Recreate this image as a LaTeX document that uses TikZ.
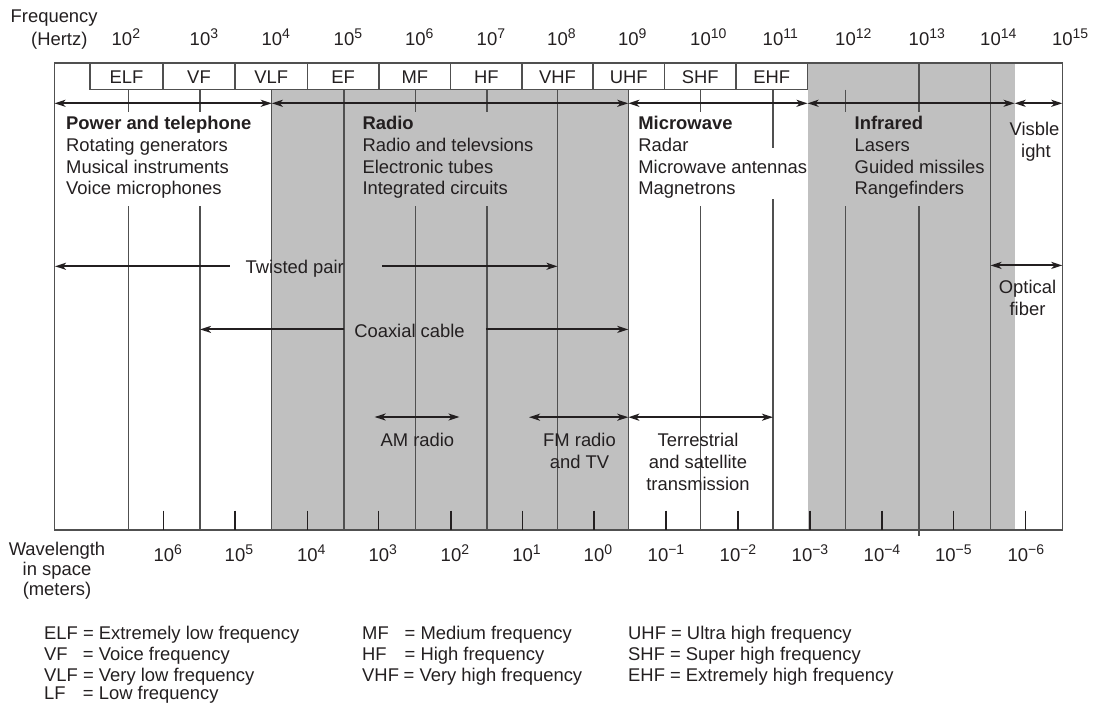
\documentclass[tikz,border=0pt]{standalone}
\usepackage{fontspec}
\setmainfont{Liberation Sans}
\usetikzlibrary{arrows.meta}
\definecolor{shadegray}{HTML}{C0C0C0}
\definecolor{linegray}{HTML}{505050}
\definecolor{ink}{HTML}{231F20}
\newcommand\tenup[1]{10\rlap{\raisebox{7pt}{\fontsize{14}{14}\selectfont #1}}}
\newcommand\tenfull[1]{10\raisebox{7pt}{\fontsize{14}{14}\selectfont #1}}
\begin{document}
\begin{tikzpicture}[x=1pt,y=-1pt,
  txt/.style={font=\fontsize{18.4}{21.7}\selectfont, inner sep=0pt, text=ink},
  num/.style={font=\fontsize{18.5}{20}\selectfont, inner sep=0pt, text=ink, anchor=base},
  lft/.style={txt, anchor=base west},
  ctr/.style={txt, anchor=base},
  bold/.style={lft, font=\fontsize{18.4}{21.7}\selectfont\bfseries},
  vline/.style={draw=linegray, line width=1.2pt},
  frameline/.style={draw=linegray, line width=1.4pt},
  tickline/.style={draw=ink, line width=1.1pt},
  both/.style={draw=ink, line width=1.9pt, {Stealth[length=11pt,width=7pt,inset=3pt]}-{Stealth[length=11pt,width=7pt,inset=3pt]}},
  tipend/.style={draw=ink, line width=1.9pt, -{Stealth[length=11pt,width=7pt,inset=3pt]}},
]
\useasboundingbox (0,0) rectangle (1094,704);

% shaded regions
\fill[shadegray] (271.8,89.5) rectangle (628.3,530);
\fill[shadegray] (807.5,63) rectangle (1014.6,530);

% outer frame
\draw[frameline] (54.5,63) rectangle (1062.3,530);

% band boxes
\draw[frameline] (90,63) -- (90,89.5) -- (807.5,89.5) -- (807.5,63);
\foreach \b in {163,235,307.4,379,450.7,522,593,664.4,736}
  \draw[frameline] (\b,63) -- (\b,89.5);
\foreach \c/\t [count=\i] in {126.5/ELF,199/VF,271.2/VLF,343.2/EF,414.9/MF,486.4/HF,557.5/VHF,628.7/UHF,700.2/SHF,771.8/EHF}
  \node[ctr] (band\i) at (\c,83) {\t};

% vertical decade lines
\foreach \x in {128.7,200.0,415.4,487.0,700.5,845.5}{
  \draw[vline] (\x,89.5) -- (\x,112);
  \draw[vline] (\x,206) -- (\x,530);
}
\foreach \x in {271.8,344.0,557.5,628.3}
  \draw[vline] (\x,89.5) -- (\x,530);
\draw[vline] (773.0,89.5) -- (773.0,148);
\draw[vline] (773.0,199) -- (773.0,530);
\draw[vline] (919.0,63) -- (919.0,112);
\draw[vline] (919.0,206) -- (919.0,536);
\draw[vline] (990.5,63) -- (990.5,530);

% wavelength ticks and labels
\foreach \x/\e [count=\i] in {163.8/6,235/5,307.3/4,378.8/3,451/2,522.6/1,594/0}{
  \draw[tickline] (\x,510.5) -- (\x,530);
  \node[num] (wl\i) at (\x,561) {\tenup{\e}};
}
\foreach \x/\e [count=\i] in {666/−1,738/−2,810/−3,882/−4,953.4/−5,1025.9/−6}{
  \draw[tickline] (\x,510.5) -- (\x,530);
  \node[num] (wn\i) at (\x,561) {\tenfull{\e}};
}

% frequency labels
\node[lft] (freq) at (10.5,22) {Frequency};
\node[lft] (hertz) at (31,45) {(Hertz)};
\node[num] (f2) at (122,45) {\tenup{2}};
\foreach \x/\e in {200.0/3,271.8/4,344.0/5,415.4/6,487.0/7,557.5/8,628.3/9,700.5/10,773.0/11,845.5/12,919.0/13,990.5/14,1062.3/15}
  \node[num] (f\e) at (\x,45) {\tenup{\e}};

% wavelength caption
\node[ctr] (wlen1) at (57,555.4) {Wavelength};
\node[ctr] (wlen2) at (57,575.4) {in space};
\node[ctr] (wlen3) at (57,595.4) {(meters)};

% top row of arrows
\coordinate (r0) at (54.5,103.3);
\coordinate (r1) at (271.8,103.3);
\coordinate (r2) at (628.3,103.3);
\coordinate (r3) at (807.5,103.3);
\coordinate (r4) at (1014.6,103.3);
\coordinate (r5) at (1062.3,103.3);
\draw[both] (r0) -- (r1);
\draw[both] (r1) -- (r2);
\draw[both] (r2) -- (r3);
\draw[both] (r3) -- (r4);
\draw[both] (r4) -- (r5);

% category texts
\node[bold] (pw0) at (66,129.6) {Power and telephone};
\node[lft] (pw1) at (66,151.3) {Rotating generators};
\node[lft] (pw2) at (66,173) {Musical instruments};
\node[lft] (pw3) at (66,194.5) {Voice microphones};

\node[bold] (ra0) at (362.3,129.6) {Radio};
\node[lft] (ra1) at (362.3,151.3) {Radio and televsions};
\node[lft] (ra2) at (362.3,173) {Electronic tubes};
\node[lft] (ra3) at (362.3,194.5) {Integrated circuits};

\node[bold] (mw0) at (638.2,129.6) {Microwave};
\node[lft] (mw1) at (638.2,151.3) {Radar};
\node[lft] (mw2) at (638.2,173) {Microwave antennas};
\node[lft] (mw3) at (638.2,194.5) {Magnetrons};

\node[bold] (ir0) at (854.5,129.6) {Infrared};
\node[lft] (ir1) at (854.5,151.3) {Lasers};
\node[lft] (ir2) at (854.5,173) {Guided missiles};
\node[lft] (ir3) at (854.5,194.5) {Rangefinders};

\node[ctr] (vis1) at (1034.5,135.5) {Visble};
\node[ctr] (vis2) at (1036,157) {ight};

% twisted pair
\node[ctr] (tp) at (294.8,273.3) {Twisted pair};
\coordinate (tpl) at (55,266.3);
\coordinate (tpr) at (557.5,266.3);
\draw[tipend] (tp.west |- tpl) ++(-16,0) -- (tpl);
\draw[tipend] (tp.east |- tpr) ++(38,0) -- (tpr);

% coaxial
\node[ctr] (cx) at (409.5,337.5) {Coaxial cable};
\coordinate (cxl) at (200.0,329.4);
\coordinate (cxr) at (628.3,329.4);
\draw[tipend] (cx.west |- cxl) ++(-10,0) -- (cxl);
\draw[tipend] (cx.east |- cxr) ++(21,0) -- (cxr);

% optical fiber
\coordinate (ofl) at (990.5,265.4);
\coordinate (ofr) at (1062.3,265.4);
\draw[both] (ofl) -- (ofr);
\node[ctr] (of1) at (1027.5,293) {Optical};
\node[ctr] (of2) at (1027.5,315) {fiber};

% AM / FM / terrestrial
\coordinate (aml) at (374.6,417);
\coordinate (amr) at (459.5,417);
\draw[both] (aml) -- (amr);
\node[ctr] (am) at (417.4,446.8) {AM radio};

\coordinate (fml) at (529,417.2);
\coordinate (fmr) at (628.3,417.2);
\draw[both] (fml) -- (fmr);
\node[ctr] (fm1) at (579.5,446.5) {FM radio};
\node[ctr] (fm2) at (579.5,468.4) {and TV};

\coordinate (tsl) at (628.3,417.2);
\coordinate (tsr) at (773.0,417.2);
\draw[both] (tsl) -- (tsr);
\node[ctr] (ts1) at (698,446.5) {Terrestrial};
\node[ctr] (ts2) at (698,468.4) {and satellite};
\node[ctr] (ts3) at (698,490) {transmission};

% legend
\node[lft] (lg1) at (44,639.5) {ELF = Extremely low frequency};
\node[lft] (lg2) at (44,660.3) {\makebox[38.8pt][l]{VF}= Voice frequency};
\node[lft] (lg3) at (44,681.1) {VLF = Very low frequency};
\node[lft] (lg4) at (44,699.6) {\makebox[38.8pt][l]{LF}= Low frequency};
\node[lft] (lg5) at (362,639) {\makebox[42.5pt][l]{MF}= Medium frequency};
\node[lft] (lg6) at (362,660) {\makebox[42.5pt][l]{HF}= High frequency};
\node[lft] (lg7) at (362,681) {\makebox[41.5pt][l]{VHF}= Very high frequency};
\node[lft] (lg8) at (628,639) {UHF = Ultra high frequency};
\node[lft] (lg9) at (628,660) {SHF = Super high frequency};
\node[lft] (lg10) at (628,681) {EHF = Extremely high frequency};
\end{tikzpicture}
\end{document}
